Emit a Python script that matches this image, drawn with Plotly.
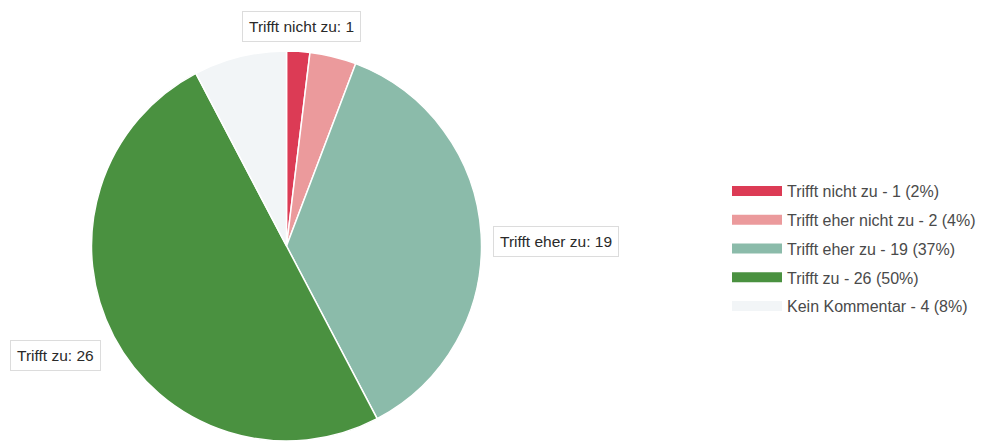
import plotly.graph_objects as go

# ── Data ─────────────────────────────────────────────────────────────────────
categories = ["Trifft nicht zu", "Trifft eher nicht zu", "Trifft eher zu",
              "Trifft zu", "Kein Kommentar"]
counts = [1, 2, 19, 26, 4]
colors = ["#dc3b55", "#eb9a9c", "#8bbbaa", "#4a9140", "#f2f5f7"]
# slices that get a call-out box, with box centre in px (x, y)
callouts = {"Trifft nicht zu": (301, 26), "Trifft eher zu": (556, 241), "Trifft zu": (55, 355)}

W, H = 984, 441
total = sum(counts)

fig = go.Figure()
fig.add_trace(go.Pie(
    labels=categories, values=counts, sort=False, direction="clockwise",
    rotation=0, marker=dict(colors=colors, line=dict(color="white", width=1.5)),
    textinfo="none", showlegend=False,
    domain=dict(x=[89 / W, 484 / W], y=[0, 1 - 51 / H]),
))

# legend entries as wide swatches
for cat, n, c in zip(categories, counts, colors):
    fig.add_trace(go.Scatter(
        x=[None], y=[None], mode="lines", line=dict(color=c, width=13),
        name=f"{cat} - {n} ({round(100 * n / total)}%)", legendgroup=cat,
    ))

for cat, n in zip(categories, counts):
    if cat in callouts:
        px_, py_ = callouts[cat]
        fig.add_annotation(
            x=px_ / W, y=1 - py_ / H, xref="paper", yref="paper",
            xanchor="center", yanchor="middle",
            text=f"{cat}: {n}", showarrow=False,
            font=dict(size=15.5, color="#2a2a2a"),
            bgcolor="white", bordercolor="#dcdcdc", borderwidth=1, borderpad=6,
        )

fig.update_layout(
    width=W, height=H, margin=dict(l=0, r=0, t=0, b=0),
    paper_bgcolor="white", plot_bgcolor="white",
    font=dict(family="Liberation Sans, Arial, sans-serif", size=12, color="#444"),
    xaxis=dict(visible=False), yaxis=dict(visible=False),
    legend=dict(x=727 / W, y=1 - 174 / H, xanchor="left", yanchor="top",
                tracegroupgap=5, itemwidth=50, font=dict(size=16, color="#4a4a4a")),
)

fig.write_html("out.html", config={"displayModeBar": False},
               post_script="document.body.style.margin='0';")
